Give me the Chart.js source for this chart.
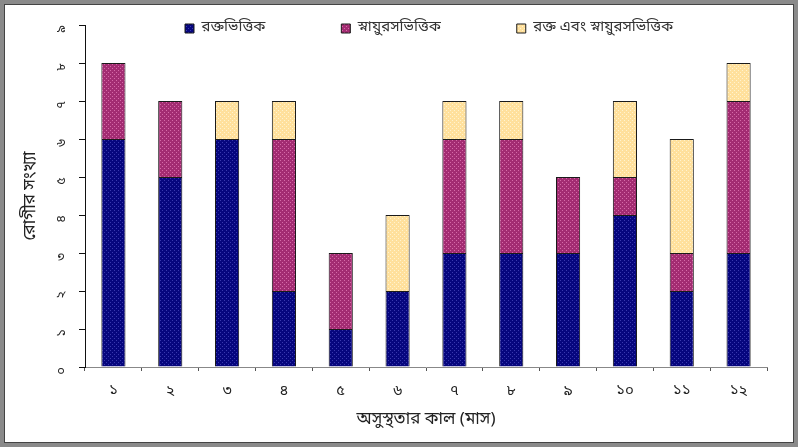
<!DOCTYPE html>
<html>
<head>
<meta charset="utf-8">
<script src="https://cdn.jsdelivr.net/npm/chart.js@4/dist/chart.umd.min.js"></script>
<style>
  html, body { margin: 0; padding: 0; background: #fff; }
  #wrap { width: 798px; height: 447px; position: relative; }
</style>
</head>
<body>
<div id="wrap"><canvas id="chart" width="798" height="447"></canvas></div>
<script>
const months = ['১', '২', '৩', '৪', '৫', '৬', '৭', '৮', '৯', '১০', '১১', '১২'];
const bloodBased = [6, 5, 6, 2, 1, 2, 3, 3, 3, 4, 2, 3];
const neuroBased = [2, 2, 0, 4, 2, 0, 3, 3, 2, 1, 1, 4];
const bothBased = [0, 0, 1, 1, 0, 2, 1, 1, 0, 2, 3, 1];
const yTickLabels = ['০', '১', '২', '৩', '৪', '৫', '৬', '৭', '৮', '৯'];

const seriesNames = ['রক্তভিত্তিক', 'স্নায়ুরসভিত্তিক', 'রক্ত এবং স্নায়ুরসভিত্তিক'];
const bnFont = "'Noto Sans Bengali', 'Noto Sans', 'DejaVu Sans', sans-serif";

// small dotted fill like the old office charts
const makePattern = (base, dot) => {
  const c = document.createElement('canvas');
  c.width = 4;
  c.height = 4;
  const g = c.getContext('2d');
  g.fillStyle = base;
  g.fillRect(0, 0, 4, 4);
  g.fillStyle = dot;
  g.fillRect(0, 0, 1, 1);
  g.fillRect(2, 2, 1, 1);
  return g.createPattern(c, 'repeat');
};

const bluePat = makePattern('#06067e', '#3838ae');
const magentaPat = makePattern('#a32c72', '#d66aa8');
const yellowPat = makePattern('#ffe09c', '#fff3cf');

const framePlugin = {
  id: 'frame',
  afterDraw: (chart) => {
    const ctx = chart.ctx;
    ctx.save();
    ctx.strokeStyle = '#8a8a8a';
    ctx.lineWidth = 4;
    ctx.strokeRect(2, 2, chart.width - 4, chart.height - 4);
    ctx.strokeStyle = '#444';
    ctx.lineWidth = 1;
    ctx.strokeRect(4.5, 4.5, chart.width - 9, chart.height - 9);
    ctx.restore();
  }
};

// legend sits inside the plot, in one row, like the original
const legendRowPlugin = {
  id: 'legendRow',
  afterInit: (chart) => {
    chart.legend.isHorizontal = () => true;
  },
  beforeDraw: (chart) => {
    const lg = chart.legend;
    const pad = lg.options.labels.padding;
    lg.left = 185 - pad;
    lg.right = chart.width;
    lg.top = 21 - pad;
    lg.bottom = 45;
  }
};

const ctx = document.getElementById('chart').getContext('2d');
new Chart(ctx, {
  type: 'bar',
  data: {
    labels: months,
    datasets: [
      { label: seriesNames[0], data: bloodBased, backgroundColor: bluePat, borderColor: '#1a1a1a', borderWidth: 1 },
      { label: seriesNames[1], data: neuroBased, backgroundColor: magentaPat, borderColor: '#1a1a1a', borderWidth: 1 },
      { label: seriesNames[2], data: bothBased, backgroundColor: yellowPat, borderColor: '#1a1a1a', borderWidth: 1 },
    ],
  },
  options: {
    responsive: false,
    animation: false,
    barPercentage: 0.85,
    categoryPercentage: 0.5,
    layout: { padding: { left: 14, right: 31, top: 25, bottom: 0 } },
    plugins: {
      legend: {
        position: 'chartArea',
        align: 'start',
        labels: {
          boxWidth: 9,
          boxHeight: 9,
          padding: 76,
          color: '#333',
          font: { family: bnFont, size: 15 },
        },
      },
      tooltip: { enabled: false },
    },
    scales: {
      x: {
        stacked: true,
        afterFit: (scale) => { scale.height = 80; },
        grid: { drawOnChartArea: false, tickLength: 4, color: '#555' },
        border: { color: '#888', dash: [2, 1] },
        ticks: { color: '#222', padding: 12, font: { family: bnFont, size: 15 } },
        title: {
          display: true,
          text: 'অসুস্থতার কাল (মাস)',
          color: '#222',
          padding: { top: 2, bottom: 16 },
          font: { family: bnFont, size: 17 },
        },
      },
      y: {
        stacked: true,
        min: 0,
        max: 9,
        afterFit: (scale) => { scale.width = 71; },
        grid: { drawOnChartArea: false, tickLength: 6, color: '#111' },
        border: { color: '#111' },
        ticks: {
          stepSize: 1,
          minRotation: 90,
          maxRotation: 90,
          padding: 17,
          color: '#222',
          font: { family: bnFont, size: 13 },
          callback: (value) => yTickLabels[value],
        },
        title: {
          display: true,
          text: 'রোগীর সংখ্যা',
          color: '#222',
          padding: { top: 8, bottom: 0 },
          font: { family: bnFont, size: 17 },
        },
      },
    },
  },
  plugins: [framePlugin, legendRowPlugin],
});
</script>
</body>
</html>
